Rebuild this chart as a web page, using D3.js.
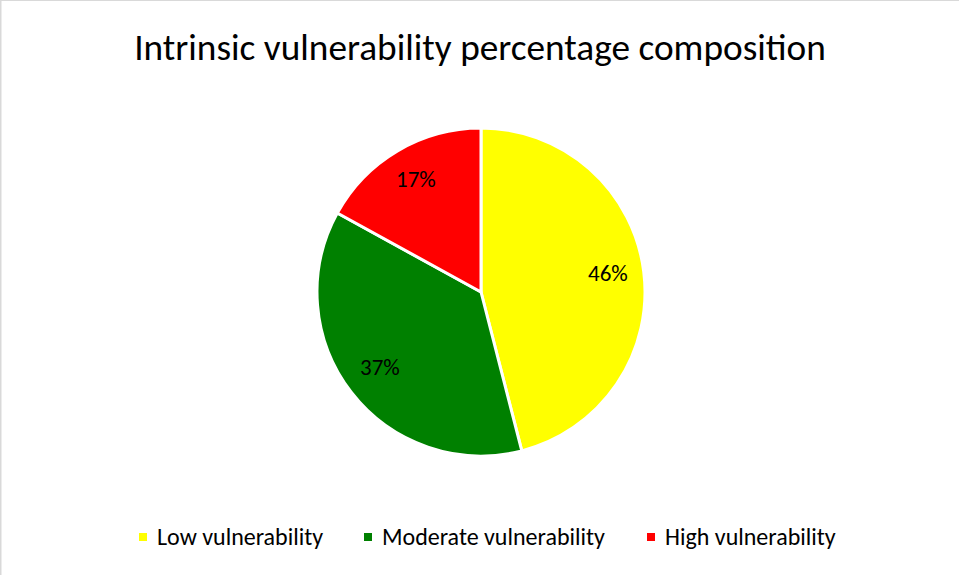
<!DOCTYPE html>
<html>
<head>
<meta charset="utf-8">
<script src="https://cdn.jsdelivr.net/npm/d3@7"></script>
<style>
  body { margin: 0; background: #fff; }
  svg { display: block; font-family: Carlito, Lato, "Open Sans", sans-serif; }
</style>
</head>
<body>
<svg></svg>
<script>
const categories = ["Low vulnerability", "Moderate vulnerability", "High vulnerability"];
const shares = [46, 37, 17];
const colours = ["#ffff00", "#008000", "#ff0000"];
const titleText = "Intrinsic vulnerability percentage composition";

const W = 959, H = 575;
const svg = d3.select("svg").attr("width", W).attr("height", H);

// chart area frame (only top/left edges show in the crop)
svg.append("rect").attr("x", 1).attr("y", 0.5).attr("width", W + 10).attr("height", H + 10)
  .attr("fill", "none").attr("stroke", "#d9d9d9").attr("stroke-width", 1);
svg.append("line").attr("x1", 0.5).attr("x2", 0.5).attr("y1", 0).attr("y2", H)
  .attr("stroke", "#d9d9d9");

svg.append("text").attr("x", 480).attr("y", 60).attr("text-anchor", "middle")
  .attr("font-size", 37.3).attr("fill", "#000").text(titleText);

const cx = 481, cy = 292, r = 164;
const pie = d3.pie().sort(null).value(d => d);
const arcs = pie(shares);
const arc = d3.arc().innerRadius(0).outerRadius(r);
const labelArc = d3.arc().innerRadius(r * 0.78).outerRadius(r * 0.78);

const g = svg.append("g").attr("transform", `translate(${cx},${cy})`);
g.selectAll("path").data(arcs).enter().append("path")
  .attr("d", arc)
  .attr("fill", (d, i) => colours[i])
  .attr("stroke", "#fff").attr("stroke-width", 3).attr("stroke-linejoin", "round");

const total = d3.sum(shares);
g.selectAll("text").data(arcs).enter().append("text")
  .attr("transform", d => `translate(${labelArc.centroid(d)})`)
  .attr("text-anchor", "middle").attr("dy", "0.2em")
  .attr("font-size", 23).attr("fill", "#000")
  .text(d => `${Math.round(d.value / total * 100)}%`);

// legend
const legendX = [139, 364, 647];
const legend = svg.append("g").attr("transform", "translate(0,537)");
const items = legend.selectAll("g").data(categories).enter().append("g")
  .attr("transform", (d, i) => `translate(${legendX[i]},0)`);
items.append("rect").attr("x", 0).attr("y", -4).attr("width", 8).attr("height", 8)
  .attr("fill", (d, i) => colours[i]);
items.append("text").attr("x", 18).attr("dy", "0.35em")
  .attr("font-size", 24).attr("fill", "#000").text(d => d);
</script>
</body>
</html>
